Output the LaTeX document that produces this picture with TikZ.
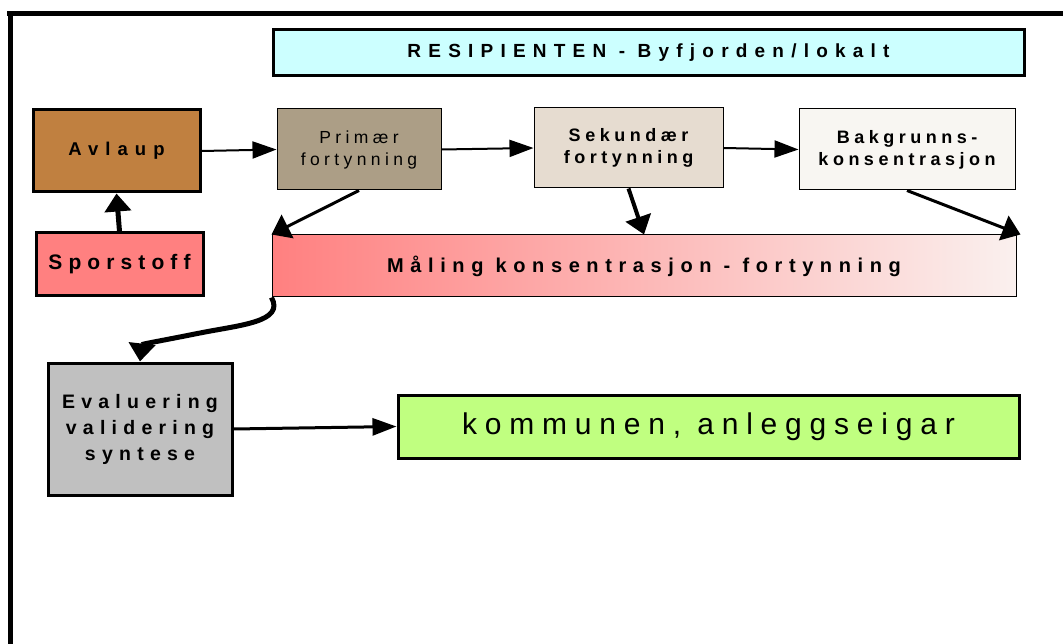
\documentclass[tikz,border=0pt]{standalone}
\usepackage{fontspec}
\setmainfont{Liberation Sans}
\usetikzlibrary{arrows.meta}
\definecolor{resipcol}{HTML}{CCFFFF}
\definecolor{avlaupcol}{HTML}{C08040}
\definecolor{sporcol}{HTML}{FF8080}
\definecolor{primcol}{HTML}{AC9E86}
\definecolor{sekcol}{HTML}{E6DCD0}
\definecolor{bakcol}{HTML}{F8F6F2}
\definecolor{malingend}{HTML}{FAF0EE}
\definecolor{evalcol}{HTML}{C0C0C0}
\definecolor{kommcol}{HTML}{C0FF80}
% size, line distance, letter spacing
\newcommand\sperr[3]{\fontsize{#1}{#2}\selectfont\addfontfeature{LetterSpace=#3}}
\begin{document}
\begin{tikzpicture}[x=1pt,y=-1pt,
    thickbox/.style={draw,line width=3pt,inner sep=0,align=center},
    thinbox/.style={draw,line width=1pt,inner sep=0,align=center,font=\bfseries\sperr{18}{22}{25}},
    pil/.style={line width=2pt,-{Triangle[length=24pt,width=17pt]}},
    tykkpil/.style={pil,line width=#1,-{Triangle[length=18pt,width=26pt]}}]
    \useasboundingbox (0,0) rectangle (1063,644);
    \draw[line width=5pt] (7,14) -- (1063,14);
    \draw[line width=5pt] (10,12) -- (10,644);
    \node[thickbox,fill=resipcol,minimum width=751pt,minimum height=46pt,font=\bfseries\sperr{19}{23}{38}] (resip) at (648.5,53) {RESIPIENTEN - Byfjorden/lokalt};
    \node[thickbox,fill=avlaupcol,minimum width=167pt,minimum height=82pt,font=\bfseries\sperr{18.5}{22}{38}] (avlaup) at (116.5,151) {Avlaup};
    \node[thickbox,fill=sporcol,minimum width=167pt,minimum height=63pt,font=\bfseries\sperr{21}{25}{29}] (spor) at (119.5,264.5) {Sporstoff};
    \node[thinbox,fill=primcol,minimum width=164pt,minimum height=81pt,font=\sperr{17.5}{22}{25}] (prim) at (359,149.5) {Primær\\fortynning};
    \node[thinbox,fill=sekcol,minimum width=189pt,minimum height=80pt] (sek) at (628.5,148) {Sekundær\\fortynning};
    \node[thinbox,fill=bakcol,minimum width=216pt,minimum height=81pt] (bak) at (907,149.5) {Bakgrunns-\\konsentrasjon};
    \node[thinbox,left color=sporcol,right color=malingend,minimum width=744pt,minimum height=62pt,font=\bfseries\sperr{20}{24}{33}] (maling) at (644,266) {Måling konsentrasjon - fortynning};
    \node[thickbox,fill=evalcol,minimum width=184pt,minimum height=132pt,font=\bfseries\sperr{19.5}{26}{32}] (eval) at (140,429) {Evaluering\\validering\\syntese};
    \node[thickbox,fill=kommcol,minimum width=621pt,minimum height=63pt,font=\sperr{30}{34}{26}] (komm) at (708.5,426.5) {kommunen, anleggseigar};
    \draw[pil] (avlaup.east) -- (prim.west);
    \draw[pil] (prim.east) -- (sek.west);
    \draw[pil] (sek.east) -- (bak.west);
    \draw[tykkpil=5pt] (spor.north) -- (avlaup.south);
    \draw[tykkpil=3pt] (prim.south) -- (maling.north west);
    \draw[tykkpil=4pt] (sek.south) -- (maling.north);
    \draw[tykkpil=3pt] (bak.south) -- ([xshift=4pt]maling.north east);
    \draw[tykkpil=5pt] (maling.south west) .. controls (285,322) and (240,325) .. (200,333) .. controls (160,341) and (142,344) .. (eval.north);
    \draw[pil,line width=3pt] (eval.east) -- (komm.west);
\end{tikzpicture}
\end{document}
